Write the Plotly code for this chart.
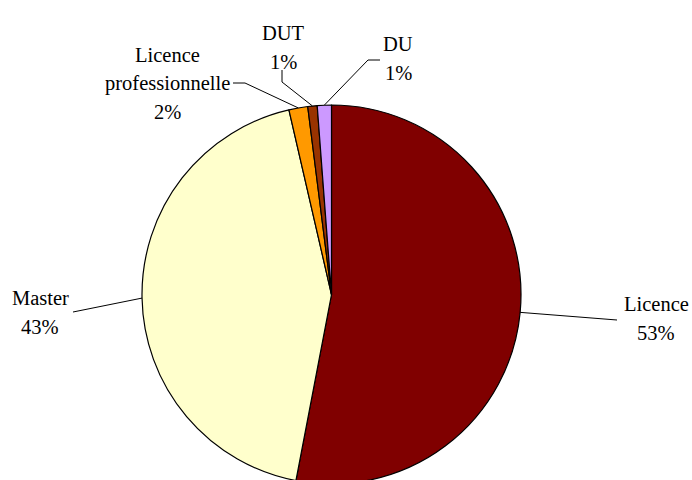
import math
import plotly.graph_objects as go

# ---- data ----
labels = ["Licence", "Master", "Licence professionnelle", "DUT", "DU"]
values = [52.9, 43.3, 1.6, 0.8, 1.2]
colors = ["#800000", "#FFFFCC", "#FF9900", "#993300", "#CC99FF"]
label_lines = [["Licence"], ["Master"], ["Licence", "professionnelle"], ["DUT"], ["DU"]]

# ---- layout geometry (pixels) ----
W, H = 692, 500          # figure taller than window: pie is clipped at bottom like reference
CX, CY, R = 331.5, 294.5, 189.5
FONT = "Liberation Serif"
FS = 20.5

def px(x):
    return x / W

def py(y):
    return 1 - y / H

fig = go.Figure(go.Pie(
    labels=labels, values=values, sort=False, direction="clockwise", rotation=0,
    marker=dict(colors=colors, line=dict(color="black", width=1.2)),
    textinfo="none", hoverinfo="label+percent", showlegend=False,
    domain=dict(x=[px(CX - R), px(CX + R)], y=[py(CY + R), py(CY - R)]),
))

# label text placement (first line center) and leader-line text anchor
text_pos = {
    "Licence": (656, 304),
    "Master": (40, 298),
    "Licence professionnelle": (167, 55),
    "DUT": (283, 33),
    "DU": (398, 44),
}
leader = {
    "Licence": [(617, 320)],
    "Master": [(73, 312)],
    "Licence professionnelle": [(233, 83), (245, 83)],
    "DUT": [(282, 70), (282, 82)],
    "DU": [(380, 60), (368, 60)],
}
LINE_GAP = 28.5

total = sum(values)
cum = 0.0
annotations = []
shapes = []
for lab, v, lines in zip(labels, values, label_lines):
    mid = (cum + v / 2) / total
    cum += v
    ang = 2 * math.pi * mid
    ex, ey = CX + R * math.sin(ang), CY - R * math.cos(ang)
    pct = f"{round(100 * v / total)}%"
    tx, ty = text_pos[lab]
    for i, t in enumerate(lines + [pct]):
        annotations.append(dict(
            x=px(tx), y=py(ty + i * LINE_GAP), xref="paper", yref="paper",
            text=t, showarrow=False, xanchor="center", yanchor="middle",
            font=dict(family=FONT, size=FS, color="black")))
    pts = leader[lab] + [(ex, ey)]
    path = "M " + " L ".join(f"{px(a)},{py(b)}" for a, b in pts)
    shapes.append(dict(type="path", xref="paper", yref="paper", path=path,
                       line=dict(color="black", width=1)))

fig.update_layout(
    width=W, height=H, margin=dict(l=0, r=0, t=0, b=0),
    paper_bgcolor="white", plot_bgcolor="white",
    font=dict(family=FONT, size=FS, color="black"),
    annotations=annotations, shapes=shapes,
)

fig.write_html("out.html", config={"displayModeBar": False},
               post_script="document.body.style.margin='0';document.body.style.overflow='hidden';document.documentElement.style.overflow='hidden';")
